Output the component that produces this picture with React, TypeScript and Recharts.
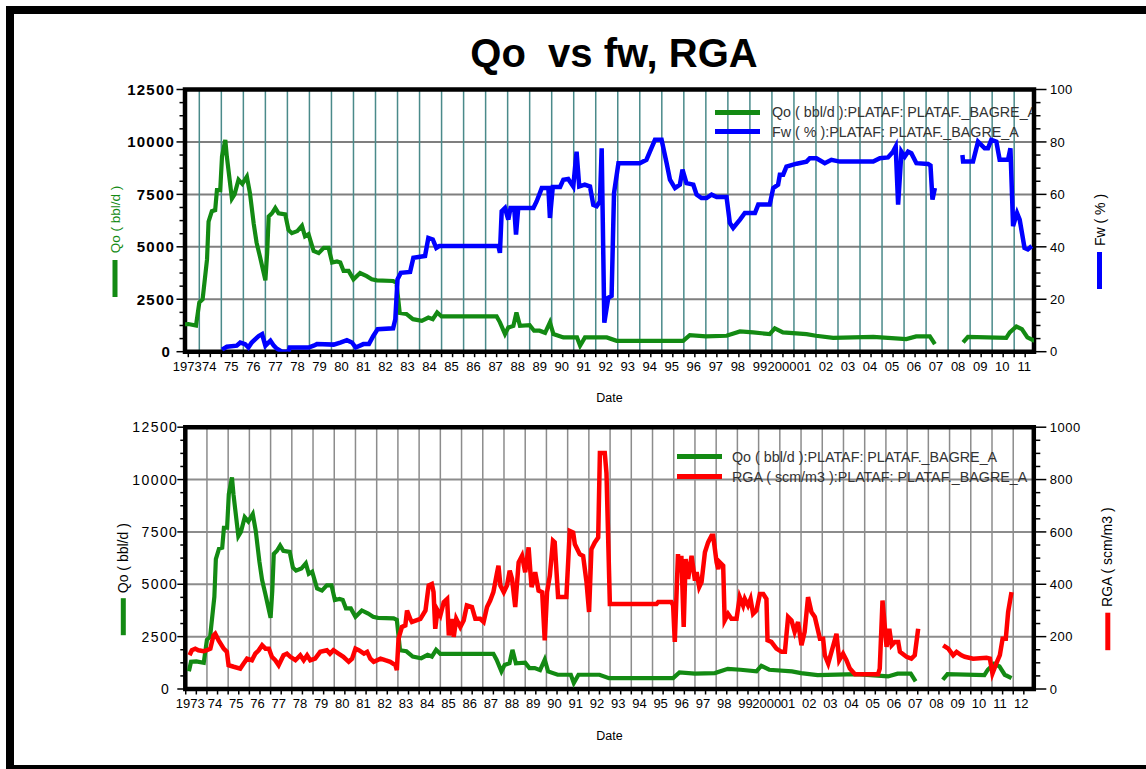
import React from 'react';
import { ComposedChart, Line, XAxis, YAxis, CartesianGrid, ReferenceArea, Legend } from 'recharts';

// ---------- DATA ----------
const qoDates = [
  1973.15, 1973.25, 1973.5, 1973.85, 1974.0, 1974.15, 1974.35, 1974.42, 1974.57, 1974.72,
  1974.8, 1974.95, 1975.03, 1975.18, 1975.25, 1975.48, 1975.6, 1975.78, 1975.95, 1976.16,
  1976.3, 1976.47, 1976.6, 1976.75, 1977.0, 1977.08, 1977.15, 1977.3, 1977.45, 1977.6,
  1977.9, 1978.05, 1978.2, 1978.45, 1978.66, 1978.8, 1978.96, 1979.19, 1979.42, 1979.65,
  1979.87, 1980.03, 1980.25, 1980.4, 1980.55, 1980.78, 1981.0, 1981.3, 1981.6, 1981.83,
  1982.06, 1982.8, 1982.95, 1983.1, 1983.4, 1983.7, 1984.1, 1984.4, 1984.6, 1984.8,
  1985.0, 1987.5, 1987.65, 1987.88, 1988.03, 1988.26, 1988.4, 1988.56, 1989.0, 1989.2,
  1989.45, 1989.7, 1989.92, 1990.08, 1990.53, 1991.15, 1991.29, 1991.51, 1992.5, 1992.95,
  1995.97, 1996.27, 1997.0, 1997.94, 1998.55, 1999.15, 1999.9, 2000.13, 2000.5, 2001.57,
  2002.0, 2002.78, 2004.6, 2006.1, 2006.55, 2007.17, 2007.4, 2008.0, 2008.68, 2008.9,
  2010.64, 2010.8, 2011.1, 2011.35, 2011.6, 2011.92,
];
const qoValues: (number | null)[] = [
  850, 1300, 1320, 1250, 2350, 2500, 4400, 6200, 6700, 6750,
  7700, 7700, 9300, 10100, 9300, 7300, 7500, 8200, 8000, 8350,
  7550, 6100, 5200, 4550, 3400, 4700, 6450, 6600, 6850, 6600,
  6550, 5800, 5650, 5750, 6000, 5500, 5600, 4800, 4700, 4950,
  4950, 4250, 4300, 4250, 3850, 3850, 3450, 3750, 3600, 3450,
  3400, 3370, 3300, 1850, 1800, 1550, 1470, 1630, 1550, 1870,
  1680, 1680, 1400, 840, 1150, 1230, 1870, 1230, 1260, 1000,
  1000, 900, 1400, 840, 680, 680, 285, 680, 680, 520,
  520, 790, 730, 760, 965, 920, 840, 1110, 920, 840,
  760, 660, 710, 600, 730, 730, 365, null, 440, 710,
  660, 920, 1200, 1075, 680, 520,
];

const fwDates = [
  1975.03, 1975.25, 1975.7, 1975.86, 1976.08, 1976.23, 1976.38, 1976.7, 1976.85, 1977.0,
  1977.23, 1977.38, 1977.5, 1977.75, 1978.05, 1978.1, 1978.96, 1979.19, 1979.34, 1980.1,
  1980.4, 1980.7, 1980.93, 1981.1, 1981.45, 1981.7, 1981.9, 1982.1, 1982.8, 1982.9,
  1983.0, 1983.15, 1983.57, 1983.72, 1984.25, 1984.4, 1984.6, 1984.76, 1984.9, 1987.58,
  1987.65, 1987.73, 1987.88, 1988.03, 1988.13, 1988.3, 1988.38, 1988.48, 1989.17, 1989.32,
  1989.55, 1989.85, 1989.92, 1990.05, 1990.38, 1990.53, 1990.75, 1990.98, 1991.13, 1991.25,
  1991.5, 1991.74, 1991.89, 1992.04, 1992.19, 1992.27, 1992.39, 1992.57, 1992.72, 1992.83,
  1993.03, 1994.0, 1994.3, 1994.46, 1994.69, 1994.99, 1995.22, 1995.37, 1995.6, 1995.82,
  1995.94, 1996.12, 1996.43, 1996.58, 1996.8, 1997.03, 1997.26, 1997.49, 1997.94, 1998.09,
  1998.24, 1998.55, 1998.77, 1999.23, 1999.38, 1999.9, 2000.06, 2000.28, 2000.36, 2000.51,
  2000.66, 2001.12, 2001.57, 2001.72, 2002.02, 2002.4, 2002.7, 2003.08, 2004.6, 2004.9,
  2005.27, 2005.5, 2005.62, 2005.73, 2005.88, 2006.03, 2006.18, 2006.33, 2006.56, 2007.09,
  2007.2, 2007.29, 2007.4, 2008.0, 2008.65, 2008.68, 2009.13, 2009.36, 2009.66, 2009.81,
  2009.96, 2010.19, 2010.34, 2010.72, 2010.83, 2010.95, 2011.13, 2011.25, 2011.47, 2011.62,
  2011.8,
];
const fwValues: (number | null)[] = [
  0.8, 1.9, 2.3, 3.5, 2.9, 1.6, 3.5, 6.0, 6.7, 2.3,
  4.2, 2.3, 1.3, 0, 0, 1.6, 1.6, 2.3, 2.9, 2.7,
  3.5, 4.4, 3.5, 1.6, 2.9, 2.9, 6.0, 8.6, 8.9, 12.4,
  27.6, 30.1, 30.4, 35.8, 36.5, 43.4, 42.8, 39.6, 40.3, 40.3,
  37.7, 53.6, 54.8, 50.4, 54.8, 54.8, 44.7, 54.8, 54.8, 57.4,
  62.4, 62.4, 51.0, 62.8, 62.8, 65.6, 65.9, 63.0, 76.3, 63.0,
  63.7, 63.0, 56.0, 55.5, 57.3, 77.6, 11.1, 20.6, 21.3, 60.5,
  71.9, 71.9, 73.2, 76.3, 80.8, 80.8, 71.9, 65.6, 62.4, 63.7,
  69.4, 64.3, 63.7, 59.9, 58.6, 58.6, 59.9, 59.0, 59.0, 49.1,
  47.2, 50.4, 52.9, 52.9, 56.1, 56.1, 62.4, 63.7, 67.5, 67.5,
  70.6, 71.7, 72.5, 73.8, 73.8, 71.9, 73.2, 72.5, 72.5, 73.8,
  74.1, 76.3, 78.2, 56.1, 76.3, 74.4, 76.3, 75.7, 71.9, 71.6,
  71.0, 58.0, 62.4, null, 75.0, 72.5, 72.5, 80.1, 77.6, 77.6,
  80.8, 80.1, 73.2, 73.2, 77.6, 47.9, 52.9, 50.4, 39.6, 39.0,
  40.3,
];

const rgaDates = [
  1973.18, 1973.29, 1973.45, 1973.6, 1973.84, 1974.0, 1974.16, 1974.31, 1974.39, 1974.55,
  1974.79, 1974.94, 1975.02, 1975.26, 1975.57, 1975.73, 1975.89, 1976.12, 1976.28, 1976.44,
  1976.6, 1976.76, 1976.92, 1977.06, 1977.22, 1977.38, 1977.61, 1977.77, 1977.93, 1978.17,
  1978.4, 1978.56, 1978.72, 1978.87, 1979.1, 1979.34, 1979.65, 1979.8, 1979.96, 1980.2,
  1980.43, 1980.68, 1980.84, 1981.0, 1981.16, 1981.4, 1981.55, 1981.7, 1981.86, 1982.18,
  1982.4, 1982.64, 1982.88, 1982.95, 1983.03, 1983.19, 1983.35, 1983.43, 1983.58, 1983.66,
  1984.06, 1984.3, 1984.45, 1984.6, 1984.68, 1984.76, 1984.87, 1985.0, 1985.16, 1985.32,
  1985.4, 1985.55, 1985.63, 1985.75, 1985.94, 1986.1, 1986.25, 1986.49, 1986.65, 1986.88,
  1987.04, 1987.2, 1987.35, 1987.5, 1987.66, 1987.74, 1987.83, 1987.99, 1988.14, 1988.27,
  1988.38, 1988.53, 1988.69, 1988.85, 1989.0, 1989.16, 1989.24, 1989.3, 1989.47, 1989.63,
  1989.8, 1989.92, 1990.03, 1990.16, 1990.31, 1990.39, 1990.55, 1990.94, 1991.1, 1991.26,
  1991.34, 1991.57, 1991.73, 1991.89, 1992.01, 1992.12, 1992.28, 1992.44, 1992.52, 1992.75,
  1992.83, 1992.99, 1995.19, 1995.27, 1995.89, 1995.97, 1996.05, 1996.2, 1996.28, 1996.36,
  1996.47, 1996.56, 1996.68, 1996.84, 1997.0, 1997.08, 1997.2, 1997.31, 1997.47, 1997.62,
  1997.78, 1997.86, 1998.02, 1998.1, 1998.17, 1998.33, 1998.4, 1998.56, 1998.72, 1998.96,
  1999.11, 1999.27, 1999.35, 1999.5, 1999.62, 1999.74, 1999.9, 2000.06, 2000.22, 2000.37,
  2000.42, 2000.6, 2000.84, 2001.08, 2001.24, 2001.39, 2001.55, 2001.7, 2001.86, 2002.02,
  2002.17, 2002.33, 2002.49, 2002.65, 2002.89, 2003.04, 2003.12, 2003.28, 2003.52, 2003.67,
  2003.8, 2003.98, 2004.14, 2004.3, 2004.54, 2005.63, 2005.71, 2005.84, 2006.03, 2006.16,
  2006.27, 2006.42, 2006.58, 2006.66, 2006.97, 2007.2, 2007.36, 2007.52, 2008.0, 2008.7,
  2008.94, 2009.17, 2009.33, 2009.56, 2009.72, 2010.11, 2010.74, 2010.9, 2011.02, 2011.2,
  2011.37, 2011.5, 2011.65, 2011.76, 2011.92,
];
const rgaValues: (number | null)[] = [
  129, 148, 154, 148, 144, 148, 154, 205, 211, 186,
  154, 142, 91, 85, 78, 97, 116, 110, 135, 148,
  167, 154, 154, 123, 110, 91, 129, 135, 123, 110,
  129, 110, 129, 110, 116, 142, 148, 135, 148, 135,
  123, 104, 116, 154, 148, 135, 142, 116, 104, 116,
  110, 104, 91, 72, 192, 237, 243, 300, 268, 256,
  268, 300, 395, 401, 370, 230, 300, 281, 332, 344,
  205, 268, 199, 268, 237, 262, 319, 313, 268, 268,
  256, 313, 338, 370, 439, 471, 395, 370, 395, 452,
  420, 313, 484, 509, 446, 541, 452, 389, 446, 376,
  370, 186, 370, 433, 566, 560, 351, 351, 604, 598,
  553, 515, 508, 408, 294, 534, 560, 579, 901, 901,
  825, 325, 325, 332, 332, 320, 180, 515, 446, 509,
  237, 496, 420, 509, 414, 446, 389, 408, 522, 560,
  585, 585, 484, 458, 484, 471, 262, 287, 268, 268,
  351, 319, 344, 319, 344, 287, 300, 363, 363, 344,
  186, 180, 154, 142, 142, 275, 262, 218, 256, 167,
  218, 351, 294, 275, 192, 192, 129, 97, 167, 211,
  110, 135, 110, 78, 56, 56, 78, 338, 161, 230,
  167, 180, 180, 142, 123, 116, 129, 230, null, 167,
  154, 129, 142, 129, 123, 116, 119, 116, 59, 97,
  129, 192, 192, 294, 370,
];

const topYears = [
  1973, 1974, 1975, 1976, 1977, 1978, 1979, 1980, 1981, 1982, 1983, 1984, 1985, 1986,
  1987, 1988, 1989, 1990, 1991, 1992, 1993, 1994, 1995, 1996, 1997, 1998, 1999, 2000,
  2001, 2002, 2003, 2004, 2005, 2006, 2007, 2008, 2009, 2010, 2011,
];
const topYearLabels = [
  '1973', '74', '75', '76', '77', '78', '79', '80', '81', '82', '83', '84', '85', '86',
  '87', '88', '89', '90', '91', '92', '93', '94', '95', '96', '97', '98', '99', '2000',
  '01', '02', '03', '04', '05', '06', '07', '08', '09', '10', '11',
];
const bottomYears = [...topYears, 2012];
const bottomYearLabels = [...topYearLabels, '12'];

const qoAxisTicks = [0, 2500, 5000, 7500, 10000, 12500];
const fwAxisTicks = [0, 20, 40, 60, 80, 100];
const rgaAxisTicks = [0, 200, 400, 600, 800, 1000];

const topLegendItems = [
  { name: 'Qo ( bbl/d ):PLATAF: PLATAF._BAGRE_A', color: '#138a13' },
  { name: 'Fw ( % ):PLATAF: PLATAF._BAGRE_A', color: '#0000ff' },
];
const bottomLegendItems = [
  { name: 'Qo ( bbl/d ):PLATAF: PLATAF._BAGRE_A', color: '#138a13' },
  { name: 'RGA ( scm/m3 ):PLATAF: PLATAF._BAGRE_A', color: '#ff0000' },
];

// ---------- HELPERS ----------
const FONT = "'Liberation Sans', Arial, Helvetica, sans-serif";
const GREEN = '#138a13';
const BLUE = '#0000ff';
const RED = '#ff0000';

const zip = (ts: number[], vs: (number | null)[]) => ts.map((t, i) => ({ t, v: vs[i] }));
const qoData = zip(qoDates, qoValues);
const fwData = zip(fwDates, fwValues);
const rgaData = zip(rgaDates, rgaValues);

function subdivide(majors: number[], parts: number): number[] {
  const out: number[] = [];
  for (let i = 0; i < majors.length - 1; i++) {
    const a = majors[i];
    const b = majors[i + 1];
    for (let k = 0; k < parts; k++) out.push(a + ((b - a) * k) / parts);
  }
  out.push(majors[majors.length - 1]);
  return out;
}

function halfYearTicks(years: number[], domain: [number, number]): number[] {
  const out: number[] = [];
  years.forEach((y) => {
    [y, y + 0.5].forEach((t) => {
      if (t >= domain[0] - 1e-9 && t <= domain[1] + 1e-9) out.push(t);
    });
  });
  return out;
}

function gridYears(years: number[], domain: [number, number]): number[] {
  return years.filter((y) => y > domain[0] + 0.1 && y < domain[1] - 0.1);
}

function XTick(props: any) {
  const { x, y, payload, years, labels, dx, firstDx } = props;
  const v = payload.value as number;
  const fl = Math.floor(v + 1e-9);
  const isHalf = Math.abs(v - fl - 0.5) < 1e-6;
  let label: string | null = null;
  let idx = -1;
  if (isHalf) {
    idx = years.indexOf(fl);
    if (idx >= 0) label = labels[idx];
  }
  return (
    <g>
      <line x1={x} x2={x} y1={y} y2={y + 5.5} stroke="#000" strokeWidth={1.5} />
      {label && (
        <text
          x={x + (idx === 0 ? firstDx : dx)}
          y={y + 18.8}
          textAnchor="middle"
          fontSize={13}
          fontFamily={FONT}
          fill="#000"
        >
          {label}
        </text>
      )}
    </g>
  );
}

function YTick(props: any) {
  const { x, y, payload, side, majors, majorLen, minorLen, gap, fontSize, fontWeight, letterSpacing, zeroDx } = props;
  const v = payload.value as number;
  const major = majors.some((m: number) => Math.abs(m - v) < 1e-6);
  const dir = side === 'left' ? -1 : 1;
  const len = major ? majorLen : minorLen;
  return (
    <g>
      <line x1={x} x2={x + dir * len} y1={y} y2={y} stroke="#000" strokeWidth={1.5} />
      {major && (
        <text
          x={x + dir * (len + gap) + (v === 0 ? zeroDx : 0)}
          y={y}
          dy="0.36em"
          textAnchor={side === 'left' ? 'end' : 'start'}
          fontSize={fontSize}
          fontWeight={fontWeight}
          letterSpacing={letterSpacing}
          fontFamily={FONT}
          fill="#000"
        >
          {v}
        </text>
      )}
    </g>
  );
}

function AxisTitle(props: any) {
  const { cx, cy, text, color, barX, barY, barH, barColor, fontSize } = props;
  return (
    <g>
      <text
        x={cx}
        y={cy}
        transform={`rotate(-90 ${cx} ${cy})`}
        textAnchor="middle"
        dy="0.36em"
        fontSize={fontSize}
        fontFamily={FONT}
        fill={color}
      >
        {text}
      </text>
      <rect x={barX} y={barY} width={5} height={barH} fill={barColor} />
    </g>
  );
}

function LegendBox({ items, lineW, gap, rowH, fontSize }: any) {
  return (
    <div style={{ fontFamily: FONT, fontSize, color: '#333', whiteSpace: 'nowrap', lineHeight: 1 }}>
      {items.map((it: any) => (
        <div key={it.name} style={{ display: 'flex', alignItems: 'center', height: rowH }}>
          <div style={{ width: lineW, height: 4.5, background: it.color, flex: 'none' }} />
          <div style={{ marginLeft: gap }}>{it.name}</div>
        </div>
      ))}
    </div>
  );
}

const dateLabel = (offset: number) => (p: any) => {
  const vb = p.viewBox || {};
  return (
    <text
      x={vb.x + vb.width / 2}
      y={vb.y + offset}
      textAnchor="middle"
      fontSize={12.5}
      fontFamily={FONT}
      fill="#000"
    >
      Date
    </text>
  );
};

// ---------- CHARTS ----------
const topDomain: [number, number] = [1973.35, 2011.9];
const bottomDomain: [number, number] = [1972.98, 2012.97];

function TopChart() {
  const xt = halfYearTicks(topYears, topDomain);
  return (
    <ComposedChart width={1146} height={420} margin={{ top: 89.5, right: 52, bottom: 18.3, left: 125 }}>
      <CartesianGrid vertical={false} horizontalValues={[2500, 5000, 7500, 10000]} stroke="#7f7f7f" strokeWidth={2} />
      <CartesianGrid horizontal={false} verticalValues={gridYears(topYears, topDomain)} stroke="#4a8a8a" strokeWidth={1.5} />
      <XAxis
        dataKey="t"
        type="number"
        domain={topDomain}
        allowDataOverflow
        ticks={xt}
        interval={0}
        tickSize={0}
        tickMargin={0}
        axisLine={false}
        tickLine={false}
        height={50}
        tick={(p: any) => (
          <XTick x={p.x} y={p.y} payload={p.payload} years={topYears} labels={topYearLabels} dx={-1} firstDx={-1} />
        )}
        label={dateLabel(50.3)}
      />
      <YAxis
        type="number"
        domain={[0, 12500]}
        allowDataOverflow
        ticks={subdivide(qoAxisTicks, 4)}
        interval={0}
        tickSize={0}
        tickMargin={0}
        axisLine={false}
        tickLine={false}
        width={60}
        tick={(p: any) => (
          <YTick
            x={p.x}
            y={p.y}
            payload={p.payload}
            side="left"
            majors={qoAxisTicks}
            majorLen={8.5}
            minorLen={5.5}
            gap={1.5}
            fontSize={15}
            fontWeight="bold"
            letterSpacing={1.2}
            zeroDx={-4}
          />
        )}
        label={(p: any) => {
          const vb = p.viewBox;
          return (
            <AxisTitle
              cx={vb.x - 10}
              cy={vb.y + 130}
              text="Qo ( bbl/d )"
              color={GREEN}
              fontSize={13.5}
              barX={vb.x - 12.5}
              barY={vb.y + 170.5}
              barH={37}
              barColor={GREEN}
            />
          );
        }}
      />
      <YAxis
        yAxisId="right"
        orientation="right"
        type="number"
        domain={[0, 100]}
        allowDataOverflow
        ticks={subdivide(fwAxisTicks, 4)}
        interval={0}
        tickSize={0}
        tickMargin={0}
        axisLine={false}
        tickLine={false}
        width={60}
        tick={(p: any) => (
          <YTick
            x={p.x}
            y={p.y}
            payload={p.payload}
            side="right"
            majors={fwAxisTicks}
            majorLen={12.5}
            minorLen={6.5}
            gap={3.5}
            fontSize={13}
            fontWeight="normal"
            letterSpacing={0.3}
            zeroDx={0}
          />
        )}
        label={(p: any) => {
          const vb = p.viewBox;
          return (
            <AxisTitle
              cx={vb.x + 66}
              cy={vb.y + 130.5}
              text="Fw ( % )"
              color="#000"
              fontSize={14}
              barX={vb.x + 63}
              barY={vb.y + 162.5}
              barH={37}
              barColor={BLUE}
            />
          );
        }}
      />
      <Line data={qoData} dataKey="v" stroke={GREEN} strokeWidth={4.2} dot={false} isAnimationActive={false} connectNulls={false} />
      <Line yAxisId="right" data={fwData} dataKey="v" stroke={BLUE} strokeWidth={4.5} dot={false} isAnimationActive={false} connectNulls={false} />
      <Legend
        layout="vertical"
        align="center"
        verticalAlign="middle"
        wrapperStyle={{ left: 715, top: 102.6, width: 317, height: 40, overflow: 'hidden' }}
        content={() => <LegendBox items={topLegendItems} lineW={45} gap={12} rowH={19.4} fontSize={14.3} />}
      />
      <ReferenceArea
        x1={topDomain[0]}
        x2={topDomain[1]}
        y1={0}
        y2={12500}
        fill="none"
        fillOpacity={0}
        stroke="#000"
        strokeWidth={4.5}
        ifOverflow="visible"
      />
    </ComposedChart>
  );
}

function BottomChart() {
  const xt = halfYearTicks(bottomYears, bottomDomain);
  return (
    <ComposedChart width={1146} height={389} margin={{ top: 47.2, right: 52.2, bottom: 30, left: 125.3 }}>
      <CartesianGrid vertical={false} horizontalValues={[2500, 5000, 7500, 10000]} stroke="#8c8c8c" strokeWidth={2} />
      <CartesianGrid horizontal={false} verticalValues={gridYears(bottomYears, bottomDomain)} stroke="#8c8c8c" strokeWidth={1.5} />
      <XAxis
        dataKey="t"
        type="number"
        domain={bottomDomain}
        allowDataOverflow
        ticks={xt}
        interval={0}
        tickSize={0}
        tickMargin={0}
        axisLine={false}
        tickLine={false}
        height={50}
        tick={(p: any) => (
          <XTick x={p.x} y={p.y} payload={p.payload} years={bottomYears} labels={bottomYearLabels} dx={-2.5} firstDx={-6} />
        )}
        label={dateLabel(50.8)}
      />
      <YAxis
        type="number"
        domain={[0, 12500]}
        allowDataOverflow
        ticks={subdivide(qoAxisTicks, 4)}
        interval={0}
        tickSize={0}
        tickMargin={0}
        axisLine={false}
        tickLine={false}
        width={60}
        tick={(p: any) => (
          <YTick
            x={p.x}
            y={p.y}
            payload={p.payload}
            side="left"
            majors={qoAxisTicks}
            majorLen={8}
            minorLen={5}
            gap={-1}
            fontSize={14}
            fontWeight="normal"
            letterSpacing={1.4}
            zeroDx={-8}
          />
        )}
        label={(p: any) => {
          const vb = p.viewBox;
          return (
            <AxisTitle
              cx={vb.x - 2}
              cy={vb.y + 131}
              text="Qo ( bbl/d )"
              color="#000"
              fontSize={14}
              barX={vb.x - 4.5}
              barY={vb.y + 171}
              barH={37}
              barColor={GREEN}
            />
          );
        }}
      />
      <YAxis
        yAxisId="right"
        orientation="right"
        type="number"
        domain={[0, 1000]}
        allowDataOverflow
        ticks={subdivide(rgaAxisTicks, 4)}
        interval={0}
        tickSize={0}
        tickMargin={0}
        axisLine={false}
        tickLine={false}
        width={60}
        tick={(p: any) => (
          <YTick
            x={p.x}
            y={p.y}
            payload={p.payload}
            side="right"
            majors={rgaAxisTicks}
            majorLen={12.5}
            minorLen={6.5}
            gap={3.5}
            fontSize={13}
            fontWeight="normal"
            letterSpacing={0.5}
            zeroDx={0}
          />
        )}
        label={(p: any) => {
          const vb = p.viewBox;
          return (
            <AxisTitle
              cx={vb.x + 73.5}
              cy={vb.y + 130}
              text="RGA ( scm/m3 )"
              color="#000"
              fontSize={14}
              barX={vb.x + 71.5}
              barY={vb.y + 185.5}
              barH={37.5}
              barColor={RED}
            />
          );
        }}
      />
      <Line data={qoData} dataKey="v" stroke={GREEN} strokeWidth={4.2} dot={false} isAnimationActive={false} connectNulls={false} />
      <Line yAxisId="right" data={rgaData} dataKey="v" stroke={RED} strokeWidth={4.5} dot={false} isAnimationActive={false} connectNulls={false} />
      <Legend
        layout="vertical"
        align="center"
        verticalAlign="middle"
        wrapperStyle={{ left: 677, top: 66.7, width: 355, height: 40, overflow: 'hidden' }}
        content={() => <LegendBox items={bottomLegendItems} lineW={45} gap={10} rowH={20} fontSize={14.3} />}
      />
      <ReferenceArea
        x1={bottomDomain[0]}
        x2={bottomDomain[1]}
        y1={0}
        y2={12500}
        fill="none"
        fillOpacity={0}
        stroke="#000"
        strokeWidth={4.5}
        ifOverflow="visible"
      />
    </ComposedChart>
  );
}

export default function App() {
  return (
    <div style={{ position: 'absolute', left: 0, top: 0, width: 1146, height: 769, background: '#fff', overflow: 'hidden' }}>
      <div
        style={{
          position: 'absolute',
          left: 6,
          top: 6,
          width: 1170,
          height: 767,
          border: '8px solid #000',
          boxSizing: 'border-box',
        }}
      />
      <svg width={1146} height={90} style={{ position: 'absolute', left: 0, top: 0 }}>
        <text
          x={614}
          y={66.5}
          textAnchor="middle"
          fontSize={40}
          fontWeight="bold"
          fontFamily={FONT}
          fill="#000"
          xmlSpace="preserve"
          style={{ whiteSpace: 'pre' }}
        >
          {'Qo  vs fw, RGA'}
        </text>
      </svg>
      <div style={{ position: 'absolute', left: 0, top: 0 }}>
        <TopChart />
      </div>
      <div style={{ position: 'absolute', left: 0, top: 380 }}>
        <BottomChart />
      </div>
    </div>
  );
}
